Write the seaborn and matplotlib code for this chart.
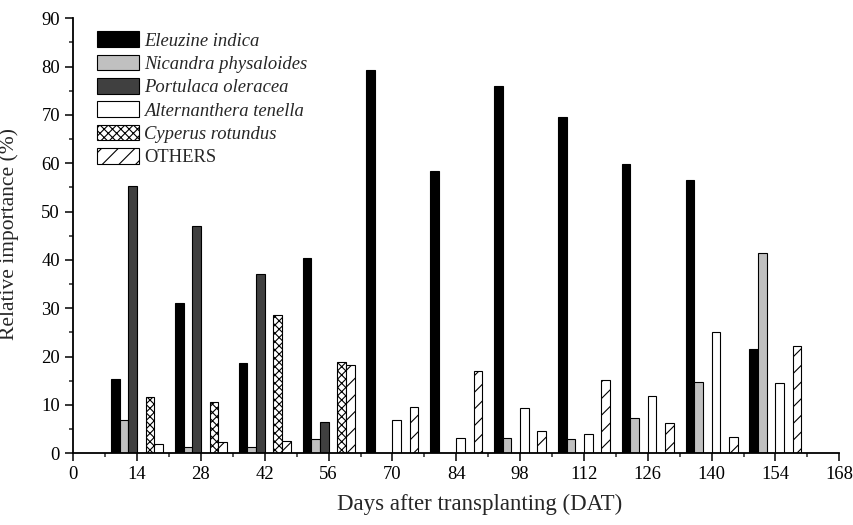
import numpy as np
import pandas as pd
import seaborn as sns
import matplotlib.pyplot as plt
from matplotlib.patches import Patch
from matplotlib.ticker import MultipleLocator

# days after transplanting
dat = [14, 28, 42, 56, 70, 84, 98, 112, 126, 140, 154]

species = ["Eleuzine indica", "Nicandra physaloides", "Portulaca oleracea",
           "Alternanthera tenella", "Cyperus rotundus", "OTHERS"]

eleuzine = [15.4, 31.0, 18.6, 40.5, 79.3, 58.5, 76.0, 69.6, 59.8, 56.5, 21.6]
nicandra = [6.9, 1.2, 1.2, 2.9, 0, 0, 3.2, 3.0, 7.2, 14.8, 41.5]
portulaca = [55.3, 47.0, 37.0, 6.5, 0, 0, 0, 0, 0, 0, 0]
alternanthera = [0, 0, 0, 0, 6.9, 3.2, 9.4, 4.0, 11.8, 25.0, 14.5]
cyperus = [11.7, 10.6, 28.7, 18.9, 0, 0, 0, 0, 0, 0, 0]
others = [2.0, 2.4, 2.6, 18.3, 9.5, 17.0, 4.7, 15.2, 6.3, 3.4, 22.1]

colors = ["black", "#c0c0c0", "#404040", "white", "white", "white"]
hatches = [None, None, None, None, "xxxx", "//"]

df = pd.DataFrame({
    "DAT": dat * 6,
    "species": np.repeat(species, len(dat)),
    "value": eleuzine + nicandra + portulaca + alternanthera + cyperus + others,
})

sns.set_style("ticks")
plt.rcParams["font.family"] = ["Liberation Serif", "DejaVu Serif"]
plt.rcParams["hatch.linewidth"] = 0.8

fig = plt.figure(figsize=(8.54, 5.25), dpi=100)
ax = fig.add_axes([0.0858, 0.1366, 0.897, 0.8286])

sns.barplot(data=df, x="DAT", y="value", hue="species", hue_order=species,
            palette=dict(zip(species, colors)), native_scale=True, dodge=True,
            width=0.815, edgecolor="black", linewidth=0.8, legend=False, ax=ax)

for cont, h in zip(ax.containers, hatches):
    if h:
        for bar in cont:
            bar.set_hatch(h)

ax.set_xlim(0, 168)
ax.set_ylim(0, 90)
ax.xaxis.set_major_locator(MultipleLocator(14))
ax.xaxis.set_minor_locator(MultipleLocator(7))
ax.yaxis.set_major_locator(MultipleLocator(10))
ax.yaxis.set_minor_locator(MultipleLocator(5))
ax.tick_params(which="major", direction="out", length=6, width=1.1, pad=3.5,
               labelsize=13.4, colors="black")
ax.tick_params(which="minor", direction="out", length=3, width=1.1)
sns.despine(ax=ax)
for s in ["left", "bottom"]:
    ax.spines[s].set_linewidth(1.3)
    ax.spines[s].set_color("black")

ax.set_xlabel("Days after transplanting (DAT)", fontsize=16.5)
ax.set_ylabel("Relative importance (%)", fontsize=15.5)
ax.xaxis.set_label_coords(0.531, -0.093)
ax.yaxis.set_label_coords(-0.071, 0.503)

handles = [Patch(facecolor=c, edgecolor="black", linewidth=0.8, hatch=h)
           for c, h in zip(colors, hatches)]
leg = ax.legend(handles, species, loc="upper left", bbox_to_anchor=(0.021, 0.987),
                frameon=False, fontsize=13.4, handlelength=2.25, handleheight=0.9,
                handletextpad=0.3, labelspacing=0.28, borderaxespad=0)
for t in leg.get_texts():
    if t.get_text() != "OTHERS":
        t.set_style("italic")

fig.savefig("out.png", dpi=100)
